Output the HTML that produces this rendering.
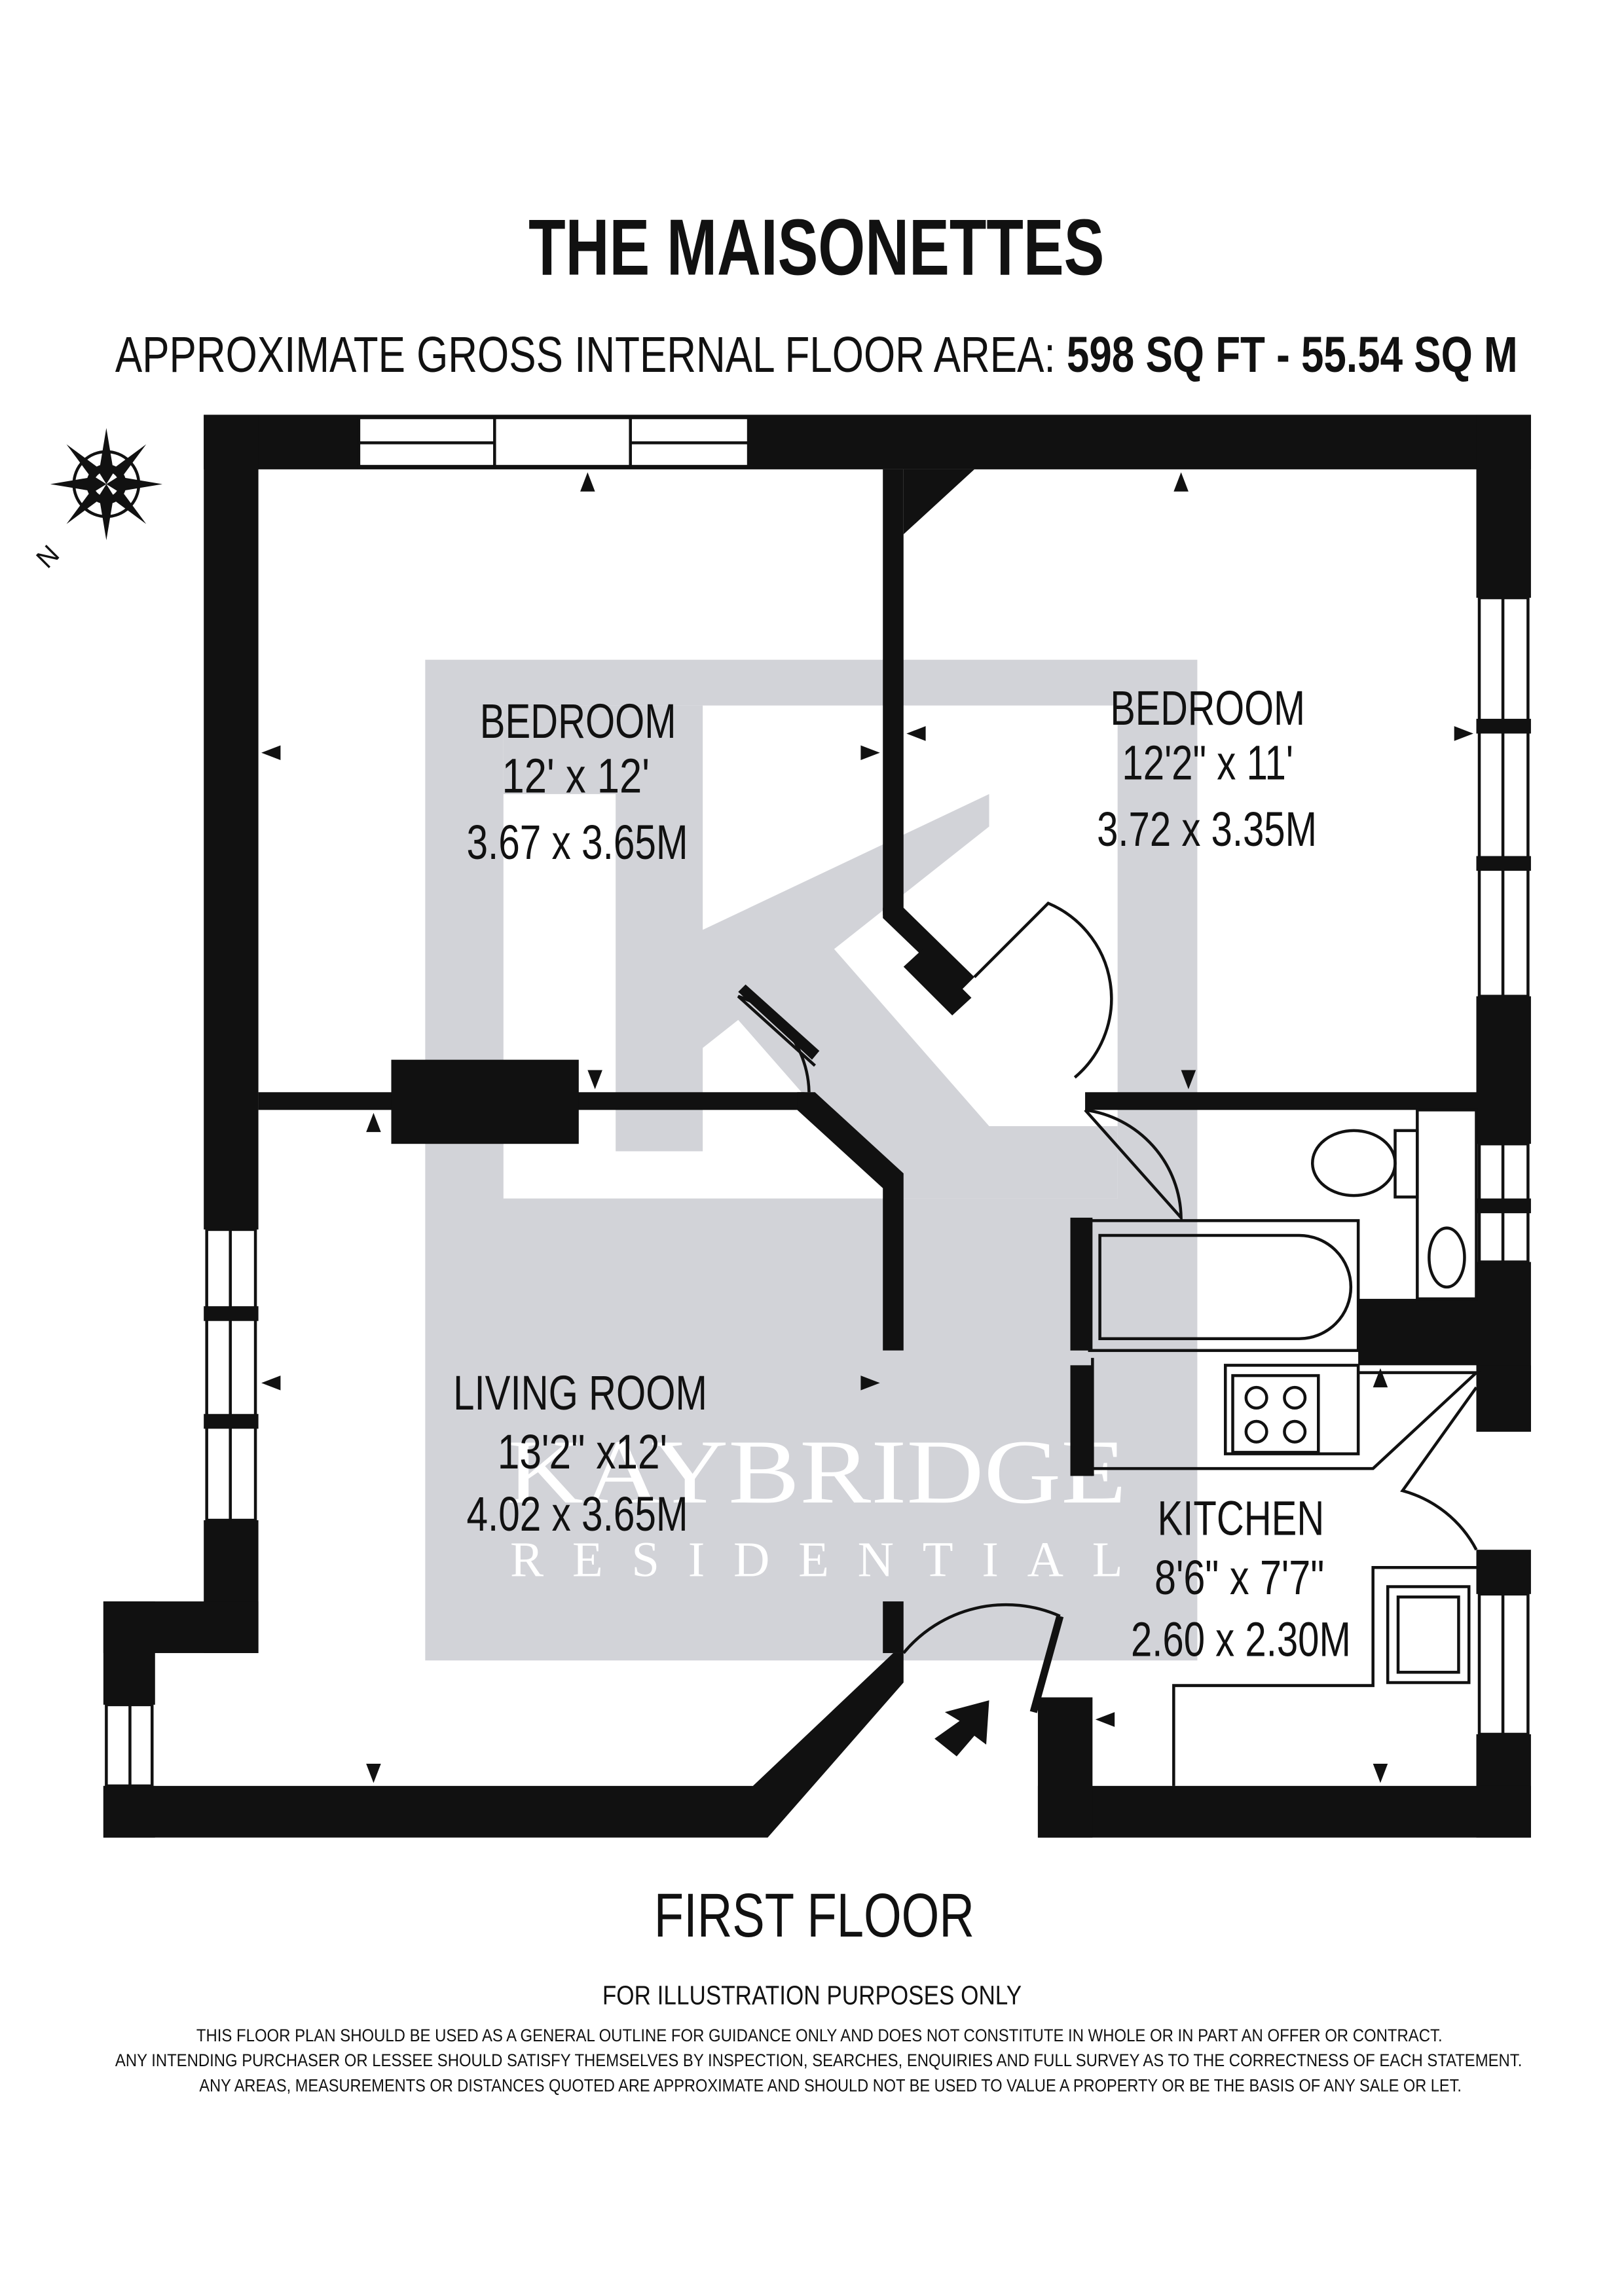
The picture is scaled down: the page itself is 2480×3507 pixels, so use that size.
<!DOCTYPE html>
<html><head><meta charset="utf-8">
<style>
html,body{margin:0;padding:0;background:#fff;}
svg{display:block;}
text{font-family:"Liberation Sans",sans-serif;}
</style></head>
<body>
<svg width="2480" height="3507" viewBox="0 0 1100 1555.6" xmlns="http://www.w3.org/2000/svg">
<rect width="1100" height="1556" fill="#fff"/>

<!-- watermark -->
<rect x="288" y="447" width="523" height="678" fill="#d2d3d8"/>
<rect x="341" y="478" width="416" height="334" fill="#fff"/>
<path d="M341 478 H476 V630 L670 538 V560 L565 643 L670 763 H757 V812 H606 L500 691 L476 710 V780 H417 V538 H341Z" fill="#d2d3d8"/>
<text x="553" y="1018" text-anchor="middle" font-size="62" fill="#fff" style="font-family:'Liberation Serif',serif" textLength="420" lengthAdjust="spacingAndGlyphs">KAYBRIDGE</text>
<text x="553" y="1068" text-anchor="middle" font-size="34" fill="#fff" style="font-family:'Liberation Serif',serif" textLength="415" lengthAdjust="spacing">RESIDENTIAL</text>

<!-- titles -->
<text x="358" y="186" font-size="54" font-weight="bold" fill="#111" textLength="390" lengthAdjust="spacingAndGlyphs">THE MAISONETTES</text>
<text x="78" y="252" font-size="34" fill="#111" textLength="950" lengthAdjust="spacingAndGlyphs">APPROXIMATE GROSS INTERNAL FLOOR AREA:  <tspan font-weight="bold">598 SQ FT  -  55.54 SQ M</tspan></text>

<!-- compass -->
<g transform="translate(72,328)">
<circle r="22" fill="none" stroke="#111" stroke-width="2"/>
<circle r="11" fill="none" stroke="#111" stroke-width="5"/>
<path d="M0 -38 L5 -8 L0 0 L-5 -8Z M0 38 L5 8 L0 0 L-5 8Z M-38 0 L-8 5 L0 0 L-8 -5Z M38 0 L8 5 L0 0 L8 -5Z" fill="#111"/>
<path d="M-27 -27 L-4 -10 L-10 -4Z M27 27 L4 10 L10 4Z M27 -27 L10 -4 L4 -10Z M-27 27 L-10 4 L-4 10Z" fill="#111"/>
<text x="-40" y="58" font-size="18" transform="rotate(-45 -40 58)" fill="#111">N</text>
</g>

<g fill="#111">
<rect x="138" y="281" width="899" height="37"/>
<rect x="138" y="281" width="37" height="552"/>
<rect x="138" y="1030" width="37" height="90"/>
<rect x="70" y="1085" width="105" height="35"/>
<rect x="70" y="1085" width="35" height="70"/>
<rect x="70" y="1210" width="35" height="35"/>
<path d="M70 1210 H510 L605 1120 H612 V1140 L520 1245 H70Z"/>
<rect x="1000" y="281" width="37" height="124"/>
<rect x="1000" y="675" width="37" height="100"/>
<rect x="1000" y="855" width="37" height="115"/>
<rect x="1000" y="1050" width="37" height="30"/>
<rect x="1000" y="1175" width="37" height="70"/>
<rect x="703" y="1210" width="334" height="35"/>
<rect x="703" y="1150" width="37" height="95"/>
<path d="M598 318 H660 L612 362 V318Z"/>
<rect x="598" y="318" width="14" height="302"/>
<path d="M598 615 L612 615 L660 662 L650 672 L598 622Z"/>
<path d="M612 655 L625 643 L658 676 L645 688Z"/>
<rect x="175" y="740" width="370" height="12"/>
<rect x="265" y="718" width="127" height="57"/>
<path d="M540 740 L552 740 L612 795 V915 H598 V805 L540 752Z"/>
<path d="M500 672 L505 667 L555 712 L550 718Z"/>
<rect x="735" y="740" width="265" height="12"/>
<rect x="598" y="1085" width="14" height="35"/>
<rect x="725" y="825" width="15" height="90"/>
<rect x="725" y="925" width="15" height="75"/>
<rect x="920" y="880" width="80" height="45"/>
<path d="M1000 925 L1037 925 V970 H1000Z"/>
</g>

<g fill="#fff" stroke="#111" stroke-width="2">
<rect x="243" y="283" width="264" height="33"/>
<line x1="243" y1="300" x2="507" y2="300"/>
<rect x="335" y="283" width="92" height="33"/>
<rect x="140" y="833" width="33" height="197"/>
<line x1="156" y1="833" x2="156" y2="1030"/>
<rect x="1002" y="405" width="33" height="270"/>
<line x1="1018" y1="405" x2="1018" y2="675"/>
<rect x="1002" y="775" width="33" height="80"/>
<line x1="1018" y1="775" x2="1018" y2="855"/>
<rect x="1002" y="1080" width="33" height="95"/>
<line x1="1018" y1="1080" x2="1018" y2="1175"/>
<rect x="72" y="1155" width="31" height="55"/>
<line x1="88" y1="1155" x2="88" y2="1210"/>
</g>
<g fill="#111">
<rect x="138" y="885" width="37" height="10"/><rect x="138" y="958" width="37" height="10"/>
<rect x="1000" y="487" width="37" height="10"/><rect x="1000" y="580" width="37" height="10"/>
<rect x="1000" y="812" width="37" height="10"/>
</g>

<g fill="none" stroke="#111" stroke-width="2">
<path d="M660 662 L710 612 A70 70 0 0 1 728 730"/>
<path d="M552 722 L500 675 A70 70 0 0 1 548 740"/>
<path d="M735 752 L800 825 A75 75 0 0 0 735 752"/>
<path d="M612 1120 A90 90 0 0 1 718 1095"/>
<path d="M1000 940 L950 1010 A80 80 0 0 1 1000 1050"/>
<rect x="738" y="827" width="182" height="88"/>
<path d="M745 837 H880 A35 35 0 0 1 880 907 H745Z"/>
<ellipse cx="917" cy="788" rx="28" ry="22"/>
<rect x="945" y="766" width="15" height="45"/>
<rect x="960" y="752" width="40" height="128"/>
<ellipse cx="980" cy="852" rx="12" ry="20"/>
<path d="M830 925 H920 V985 H830Z M740 920 V1000 M920 930 L1000 930 L930 995 H740"/>
<rect x="835" y="932" width="58" height="52"/>
<circle cx="851" cy="947" r="7"/><circle cx="877" cy="947" r="7"/>
<circle cx="851" cy="970" r="7"/><circle cx="877" cy="970" r="7"/>
<path d="M1000 1062 H930 V1142 H795 V1210"/>
<rect x="940" y="1075" width="55" height="65"/>
<rect x="947" y="1082" width="41" height="51"/>
</g>
<path d="M718 1095 L700 1160" stroke="#111" stroke-width="5"/>
<path d="M648 1190 L633 1178 L650 1166 L640 1160 L670 1152 L668 1182 L660 1176 Z" fill="#111"/>

<g fill="#111">
<path d="M398 320 l5 13 h-10Z"/><path d="M800 320 l5 13 h-10Z"/>
<path d="M177 510 l13 -5 v10Z"/><path d="M596 510 l-13 -5 v10Z"/>
<path d="M614 497 l13 -5 v10Z"/><path d="M998 497 l-13 -5 v10Z"/>
<path d="M403 738 l5 -13 h-10Z"/><path d="M805 738 l5 -13 h-10Z"/>
<path d="M253 754 l5 13 h-10Z"/>
<path d="M177 937 l13 -5 v10Z"/><path d="M596 937 l-13 -5 v10Z"/>
<path d="M253 1208 l5 -13 h-10Z"/><path d="M935 1208 l5 -13 h-10Z"/>
<path d="M935 927 l5 13 h-10Z"/><path d="M742 1165 l13 -5 v10Z"/>
</g>

<g font-size="33" fill="#111">
<text x="325" y="500" textLength="133" lengthAdjust="spacingAndGlyphs">BEDROOM</text>
<text x="340" y="537" textLength="100" lengthAdjust="spacingAndGlyphs">12' x 12'</text>
<text x="316" y="582" textLength="150" lengthAdjust="spacingAndGlyphs">3.67 x 3.65M</text>
<text x="752" y="491" textLength="132" lengthAdjust="spacingAndGlyphs">BEDROOM</text>
<text x="760" y="528" textLength="116" lengthAdjust="spacingAndGlyphs">12'2" x 11'</text>
<text x="743" y="573" textLength="149" lengthAdjust="spacingAndGlyphs">3.72 x 3.35M</text>
<text x="307" y="955" textLength="172" lengthAdjust="spacingAndGlyphs">LIVING ROOM</text>
<text x="337" y="995" textLength="115" lengthAdjust="spacingAndGlyphs">13'2" x12'</text>
<text x="316" y="1037" textLength="150" lengthAdjust="spacingAndGlyphs">4.02 x 3.65M</text>
<text x="784" y="1040" textLength="113" lengthAdjust="spacingAndGlyphs">KITCHEN</text>
<text x="782" y="1080" textLength="115" lengthAdjust="spacingAndGlyphs">8'6" x 7'7"</text>
<text x="766" y="1122" textLength="149" lengthAdjust="spacingAndGlyphs">2.60 x 2.30M</text>
</g>

<text x="443" y="1312" font-size="42" fill="#111" textLength="217" lengthAdjust="spacingAndGlyphs">FIRST FLOOR</text>
<text x="408" y="1358" font-size="18" fill="#111" textLength="284" lengthAdjust="spacingAndGlyphs">FOR ILLUSTRATION PURPOSES ONLY</text>
<g font-size="12" fill="#111">
<text x="133" y="1383" textLength="844" lengthAdjust="spacingAndGlyphs">THIS FLOOR PLAN SHOULD BE USED AS A GENERAL OUTLINE FOR GUIDANCE ONLY AND DOES NOT CONSTITUTE IN WHOLE OR IN PART AN OFFER OR CONTRACT.</text>
<text x="78" y="1400" textLength="953" lengthAdjust="spacingAndGlyphs">ANY INTENDING PURCHASER OR LESSEE SHOULD SATISFY THEMSELVES BY INSPECTION, SEARCHES, ENQUIRIES AND FULL SURVEY AS TO THE CORRECTNESS OF EACH STATEMENT.</text>
<text x="135" y="1417" textLength="855" lengthAdjust="spacingAndGlyphs">ANY AREAS, MEASUREMENTS OR DISTANCES QUOTED ARE APPROXIMATE AND SHOULD NOT BE USED TO VALUE A PROPERTY OR BE THE BASIS OF ANY SALE OR LET.</text>
</g>
</svg>
</body></html>
